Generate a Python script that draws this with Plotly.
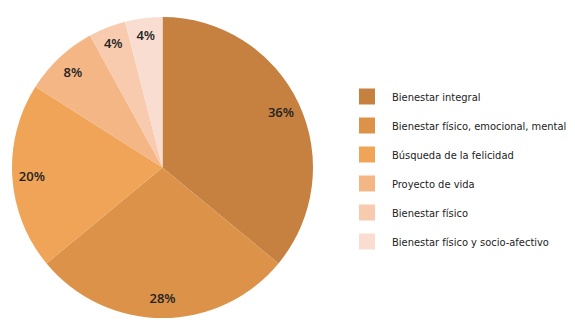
import plotly.graph_objects as go

categories = ["Bienestar integral", "Bienestar físico, emocional, mental",
              "Búsqueda de la felicidad", "Proyecto de vida",
              "Bienestar físico", "Bienestar físico y socio-afectivo"]
values = [36, 28, 20, 8, 4, 4]
colors = ["#C6803F", "#DC9249", "#F0A458", "#F5B686", "#F8CAAE", "#F9DDD0"]

domain = dict(x=[11/575, 314/575], y=[8/326, 309/326])

fig = go.Figure()
# filled pie
fig.add_trace(go.Pie(labels=categories, values=values, sort=False, direction="clockwise",
                     rotation=0, marker=dict(colors=colors, line=dict(width=0)),
                     textinfo="none", hoverinfo="label+percent", showlegend=False,
                     domain=domain))
# text-only ring to place percentages near the rim
fig.add_trace(go.Pie(labels=categories, values=values, sort=False, direction="clockwise",
                     rotation=0, hole=0.74,
                     marker=dict(colors=["rgba(0,0,0,0)"] * len(values), line=dict(width=0)),
                     textinfo="percent", textposition="inside",
                     insidetextorientation="horizontal",
                     textfont=dict(family="Open Sans", size=13, color="#222222", weight=600),
                     hoverinfo="skip", showlegend=False, domain=domain))
# legend entries
for i, (c, col) in enumerate(zip(categories, colors)):
    fig.add_trace(go.Scatter(x=[None], y=[None], mode="markers", name=c,
                             legendgroup=f"g{i}",
                             marker=dict(symbol="square", size=16, color=col)))

fig.update_layout(
    width=575, height=326,
    margin=dict(l=0, r=0, t=0, b=0, autoexpand=False),
    paper_bgcolor="white", plot_bgcolor="white",
    xaxis=dict(visible=False), yaxis=dict(visible=False),
    legend=dict(x=342/575, y=1 - 82/326, xanchor="left", yanchor="top",
                itemwidth=40, tracegroupgap=10, bgcolor="rgba(0,0,0,0)",
                font=dict(family="DejaVu Sans Condensed, sans-serif",
                          size=11, color="#222222")),
)
fig.write_html("out.html", config={"displayModeBar": False},
               post_script="document.body.style.margin='0';")
